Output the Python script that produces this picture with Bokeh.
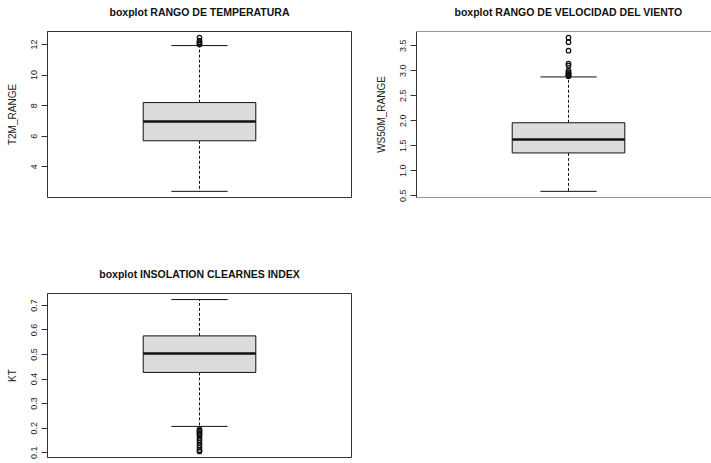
from bokeh.plotting import figure
from bokeh.models import Range1d, FixedTicker, Span
from bokeh.layouts import row, column
from bokeh.embed import file_html
from bokeh.resources import INLINE

# Summary statistics per variable: lower whisker, Q1, median, Q3, upper whisker
t2m_stats = [2.39, 5.70, 6.97, 8.20, 11.93]
t2m_outliers = [12.00, 12.06, 12.15, 12.25, 12.45]
t2m_ticks = [4, 6, 8, 10, 12]
t2m_tick_labels = ["4", "6", "8", "10", "12"]

ws_stats = [0.59, 1.357, 1.625, 1.96, 2.875]
ws_outliers = [2.89, 2.90, 2.91, 2.93, 2.95, 2.97, 3.00, 3.10, 3.14, 3.40, 3.57, 3.66]
ws_ticks = [0.5, 1.0, 1.5, 2.0, 2.5, 3.0, 3.5]
ws_tick_labels = ["0.5", "1.0", "1.5", "2.0", "2.5", "3.0", "3.5"]

kt_stats = [0.207, 0.427, 0.504, 0.576, 0.724]
kt_outliers = [0.105, 0.11, 0.12, 0.13, 0.14, 0.15, 0.16, 0.17, 0.175, 0.18, 0.185, 0.19, 0.195]
kt_ticks = [0.1, 0.2, 0.3, 0.4, 0.5, 0.6, 0.7]
kt_tick_labels = ["0.1", "0.2", "0.3", "0.4", "0.5", "0.6", "0.7"]

FONT = "Liberation Sans"
INK = "#111111"
FRAME = "#333333"


def boxplot_panel(title, ylabel, stats, outliers, ticks, tick_labels,
                  width, height, borders, x_end=1.54, open_right=False,
                  title_offset=None):
    lo_w, q1, med, q3, hi_w = stats
    data_lo = min([lo_w] + outliers)
    data_hi = max([hi_w] + outliers)
    pad = 0.04 * (data_hi - data_lo)
    left, right, top, bottom = borders

    p = figure(width=width, height=height, output_backend="svg",
               toolbar_location=None, x_axis_location="above",
               x_range=Range1d(0.46, x_end),
               y_range=Range1d(data_lo - pad, data_hi + pad),
               min_border_left=left, min_border_right=right,
               min_border_top=top, min_border_bottom=bottom)
    p.grid.visible = False
    p.background_fill_color = "white"
    p.border_fill_color = "white"

    # the top x axis draws nothing; its tick length only keeps the title clear of the frame
    xa = p.xaxis[0]
    xa.ticker = FixedTicker(ticks=[1])
    xa.major_label_overrides = {1: ""}
    xa.major_label_standoff = 0
    xa.axis_line_color = None
    xa.major_tick_line_color = None
    xa.minor_tick_line_color = None
    xa.major_tick_out = 14
    xa.major_tick_in = 0
    xa.minor_tick_out = 0
    xa.minor_tick_in = 0

    if open_right:
        # frame drawn on three sides only; the right side runs off the page
        p.outline_line_color = None
        for loc, dim in ((p.y_range.start, "width"), (p.y_range.end, "width"),
                         (p.x_range.start, "height")):
            p.add_layout(Span(location=loc, dimension=dim,
                              line_color=FRAME, line_width=1))
    else:
        p.outline_line_color = FRAME
        p.outline_line_width = 1
        p.outline_line_alpha = 1.0

    # title
    p.title.text = title
    if title_offset is None:
        p.title.align = "center"
    else:
        p.title.align = "left"
        p.title.offset = title_offset
    p.title.text_font = FONT
    p.title.text_font_style = "bold"
    p.title.text_font_size = "10.5px"
    p.title.text_color = INK
    p.title.standoff = 0

    # y axis
    ax = p.yaxis[0]
    ax.ticker = FixedTicker(ticks=ticks)
    ax.major_label_overrides = {t: s for t, s in zip(ticks, tick_labels)}
    ax.major_label_orientation = "vertical"
    ax.major_label_text_font = FONT
    ax.major_label_text_font_size = "9px"
    ax.major_label_text_color = "#222222"
    ax.major_label_standoff = 4
    ax.major_tick_out = 6
    ax.major_tick_in = 0
    ax.minor_tick_out = 0
    ax.minor_tick_in = 0
    ax.major_tick_line_color = FRAME
    ax.axis_line_color = FRAME
    ax.axis_label = ylabel
    ax.axis_label_text_font = FONT
    ax.axis_label_text_font_size = "10px"
    ax.axis_label_text_font_style = "normal"
    ax.axis_label_text_color = "#222222"
    ax.axis_label_standoff = 11

    # whiskers
    p.segment(x0=[1, 1], x1=[1, 1], y0=[q3, q1], y1=[hi_w, lo_w],
              line_color=INK, line_width=1, line_dash="3 2")
    # caps
    p.segment(x0=[0.9, 0.9], x1=[1.1, 1.1], y0=[hi_w, lo_w], y1=[hi_w, lo_w],
              line_color=INK, line_width=1)
    # box
    p.vbar(x=[1], width=0.4, bottom=[q1], top=[q3],
           fill_color="#DCDCDC", line_color=INK, line_width=1)
    # median
    p.segment(x0=[0.8], x1=[1.2], y0=[med], y1=[med],
              line_color=INK, line_width=2.5)
    # outliers
    p.scatter(x=[1] * len(outliers), y=outliers, marker="circle", size=4.5,
              fill_color=None, line_color=INK, line_width=1.2)
    return p


p1 = boxplot_panel("boxplot RANGO DE TEMPERATURA", "T2M_RANGE",
                   t2m_stats, t2m_outliers, t2m_ticks, t2m_tick_labels,
                   width=355, height=262, borders=(47, 4, 31, 65))
p2 = boxplot_panel("boxplot RANGO DE VELOCIDAD DEL VIENTO", "WS50M_RANGE",
                   ws_stats, ws_outliers, ws_ticks, ws_tick_labels,
                   width=356, height=262, borders=(61, 0, 31, 65),
                   x_end=0.46 + 295 / 281.5, open_right=True, title_offset=38)
p3 = boxplot_panel("boxplot INSOLATION CLEARNES INDEX", "KT",
                   kt_stats, kt_outliers, kt_ticks, kt_tick_labels,
                   width=355, height=201, borders=(47, 4, 31, 6))

page = column(row(p1, p2), p3)
open("out.html", "w").write(file_html(page, INLINE))
